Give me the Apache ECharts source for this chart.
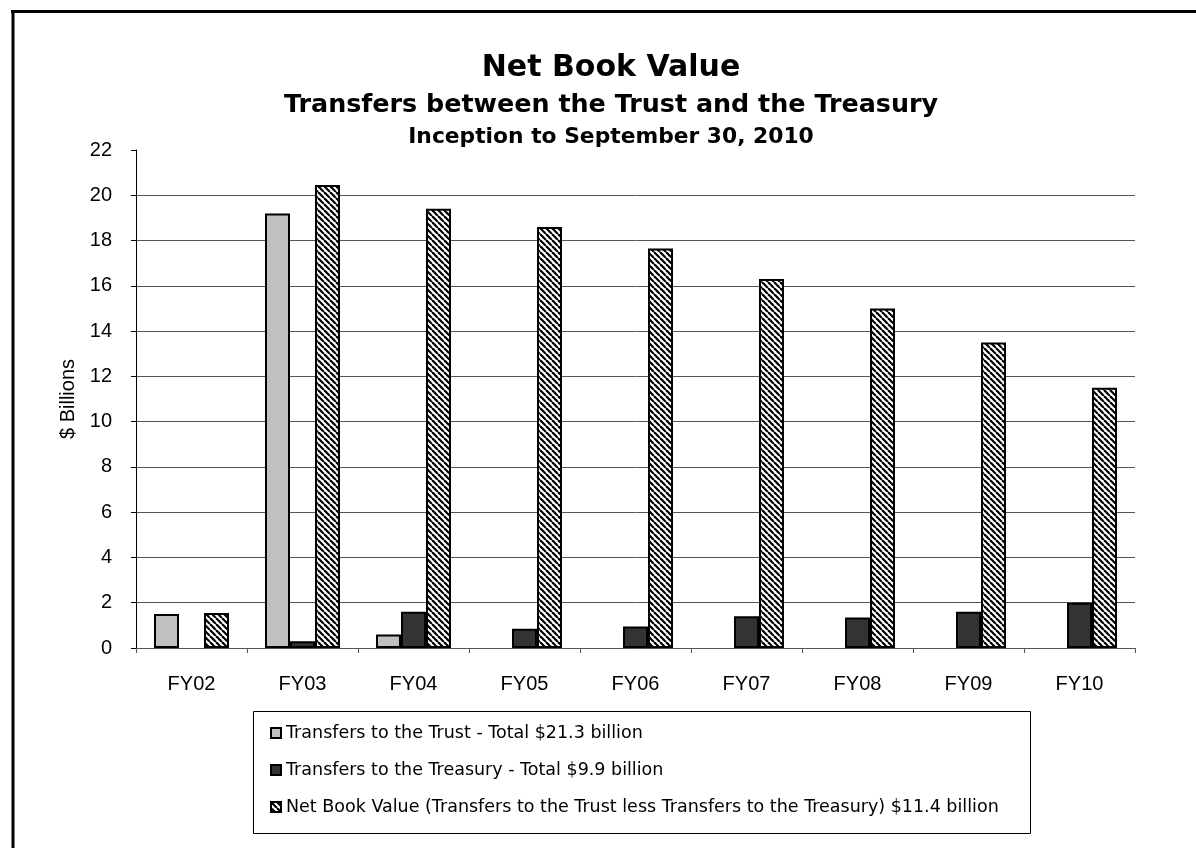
<!DOCTYPE html>
<html><head><meta charset="utf-8">
<script src="https://cdn.jsdelivr.net/npm/echarts@6/dist/echarts.min.js"></script>
<style>html,body{margin:0;padding:0;background:#fff}#c{width:1196px;height:848px}</style>
</head><body><div id="c"></div>
<script>
const categories = ['FY02','FY03','FY04','FY05','FY06','FY07','FY08','FY09','FY10'];
const trustValues = [1.5, 19.2, 0.6, null, null, null, null, null, null];
const treasuryValues = [null, 0.3, 1.6, 0.85, 0.95, 1.4, 1.35, 1.6, 2.0];
const netValues = [1.55, 20.45, 19.4, 18.6, 17.65, 16.3, 15.0, 13.5, 11.5];
const seriesNames = [
  'Transfers to the Trust - Total $21.3 billion',
  'Transfers to the Treasury - Total $9.9 billion',
  'Net Book Value (Transfers to the Trust less Transfers to the Treasury) $11.4 billion'
];
const titleLines = ['Net Book Value', 'Transfers between the Trust and the Treasury', 'Inception to September 30, 2010'];
const yAxisName = '$ Billions';
const yMin = 0, yMax = 22, yStep = 2;

function hatch() {
  const s = 6;
  const c = document.createElement('canvas');
  c.width = s; c.height = s;
  const g = c.getContext('2d');
  g.fillStyle = '#fff'; g.fillRect(0, 0, s, s);
  g.strokeStyle = '#000'; g.lineWidth = 2.2;
  for (let k = -1; k <= 1; k++) {
    g.beginPath(); g.moveTo(k * s, 0); g.lineTo(k * s + s, s); g.stroke();
  }
  return c;
}

const chart = echarts.init(document.getElementById('c'));
const nLines = (yMax - yMin) / yStep + 1;
const gridColors = [];
for (let i = 0; i < nLines; i++) gridColors.push(i === nLines - 1 ? 'rgba(0,0,0,0)' : '#555');

const legendFont = { fontFamily: 'DejaVu Sans', fontSize: 17.5, color: '#000', lineHeight: 20 };
const legendTops = [723, 760, 797];

chart.setOption({
  animation: false,
  backgroundColor: '#fff',
  grid: { left: 136, right: 61, top: 150, bottom: 200, containLabel: false },
  xAxis: {
    type: 'category', data: categories,
    axisLine: { show: true, lineStyle: { color: '#555', width: 1 } },
    axisTick: { show: true, length: 5, alignWithLabel: false, lineStyle: { color: '#555' } },
    axisLabel: { margin: 26, fontFamily: 'Liberation Sans', fontSize: 20, color: '#000' }
  },
  yAxis: {
    type: 'value', min: yMin, max: yMax, interval: yStep,
    name: yAxisName, nameLocation: 'middle', nameRotate: 90, nameGap: 58,
    nameTextStyle: { fontFamily: 'Liberation Sans', fontSize: 20, color: '#000' },
    axisLine: { show: true, lineStyle: { color: '#000', width: 1 } },
    axisTick: { show: true, length: 5, lineStyle: { color: '#000' } },
    axisLabel: { margin: 24, fontFamily: 'Liberation Sans', fontSize: 20, color: '#000' },
    splitLine: { show: true, lineStyle: { color: gridColors, width: 1 } }
  },
  legend: seriesNames.map((n, i) => ({
    data: [n], orient: 'vertical', left: 270, top: legendTops[i], padding: 0,
    itemWidth: 10, itemHeight: 10, itemGap: 0, selectedMode: false, icon: 'rect',
    textStyle: legendFont
  })),
  series: [
    { name: seriesNames[0], type: 'bar', data: trustValues, barWidth: 25, barGap: '0%',
      itemStyle: { color: '#c0c0c0', borderColor: '#000', borderWidth: 2 } },
    { name: seriesNames[1], type: 'bar', data: treasuryValues, barWidth: 25, barGap: '0%',
      itemStyle: { color: '#333333', borderColor: '#000', borderWidth: 2 } },
    { name: seriesNames[2], type: 'bar', data: netValues, barWidth: 25, barGap: '0%',
      itemStyle: { color: { image: hatch(), repeat: 'repeat' }, borderColor: '#000', borderWidth: 2 } }
  ],
  graphic: [
    { type: 'line', shape: { x1: 11, y1: 11.5, x2: 1196, y2: 11.5 }, style: { stroke: '#000', lineWidth: 3 }, silent: true },
    { type: 'line', shape: { x1: 13, y1: 10, x2: 13, y2: 848 }, style: { stroke: '#000', lineWidth: 3 }, silent: true },
    { type: 'rect', shape: { x: 253.5, y: 711.5, width: 777, height: 122 }, style: { fill: 'none', stroke: '#000', lineWidth: 1 }, silent: true },
    { type: 'text', x: 611, y: 68, style: { text: titleLines[0], fontFamily: 'DejaVu Sans', fontWeight: 'bold', fontSize: 30, fill: '#000', textAlign: 'center', textVerticalAlign: 'middle' }, silent: true },
    { type: 'text', x: 611, y: 105, style: { text: titleLines[1], fontFamily: 'DejaVu Sans', fontWeight: 'bold', fontSize: 25.4, fill: '#000', textAlign: 'center', textVerticalAlign: 'middle' }, silent: true },
    { type: 'text', x: 611, y: 137, style: { text: titleLines[2], fontFamily: 'DejaVu Sans', fontWeight: 'bold', fontSize: 21.8, fill: '#000', textAlign: 'center', textVerticalAlign: 'middle' }, silent: true }
  ]
});
</script>
</body></html>
